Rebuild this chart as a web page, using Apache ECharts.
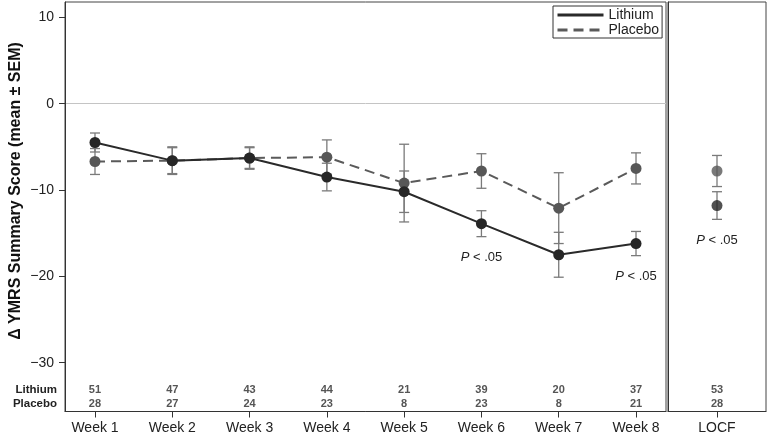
<!DOCTYPE html>
<html>
<head>
<meta charset="utf-8">
<script src="https://cdn.jsdelivr.net/npm/echarts@6/dist/echarts.min.js"></script>
<style>
html, body { margin: 0; padding: 0; background: #fff; }
#chart { width: 768px; height: 437px; }
</style>
</head>
<body>
<div id="chart"></div>
<script>
// weekly values
const weeks = ['Week 1', 'Week 2', 'Week 3', 'Week 4', 'Week 5', 'Week 6', 'Week 7', 'Week 8']
const weekPos = [1, 2, 3, 4, 5, 6, 7, 8]
const lithiumMean = [-4.5, -6.6, -6.3, -8.5, -10.2, -13.9, -17.5, -16.2]
const lithiumSem = [1.1, 1.5, 1.3, 1.6, 2.4, 1.5, 2.6, 1.4]
const placeboMean = [-6.7, -6.6, -6.3, -6.2, -9.2, -7.8, -12.1, -7.5]
const placeboSem = [1.5, 1.6, 1.2, 2.0, 4.5, 2.0, 4.1, 1.8]
const nLithium = [51, 47, 43, 44, 21, 39, 20, 37]
const nPlacebo = [28, 27, 24, 23, 8, 23, 8, 21]
const sigWeeks = [6, 8] // P < .05

// LOCF panel
const locfCats = ['LOCF']
const locfLithiumMean = [-11.8]
const locfLithiumSem = [1.6]
const locfPlaceboMean = [-7.8]
const locfPlaceboSem = [1.8]
const locfNLithium = [53]
const locfNPlacebo = [28]

const yTicks = [10, 0, -10, -20, -30]

const FONT = 'Liberation Sans, Arial, sans-serif'
const Y_MIN = -35.65
const Y_MAX = 11.77

const chart = echarts.init(document.getElementById('chart'))

// error bars as custom series
function errorBars (xAxisIndex, xs, means, sems) {
  return {
    type: 'custom',
    xAxisIndex: xAxisIndex,
    yAxisIndex: xAxisIndex,
    silent: true,
    z: 1,
    data: means.map((m, i) => [xs[i], m - sems[i], m + sems[i]]),
    renderItem: (params, api) => {
      const x = api.value(0)
      const lo = api.coord([x, api.value(1)])
      const hi = api.coord([x, api.value(2)])
      const w = 5
      const st = { stroke: '#7a7a7a', lineWidth: 1.3 }
      return {
        type: 'group',
        children: [
          { type: 'line', shape: { x1: lo[0], y1: lo[1], x2: hi[0], y2: hi[1] }, style: st },
          { type: 'line', shape: { x1: lo[0] - w, y1: lo[1], x2: lo[0] + w, y2: lo[1] }, style: st },
          { type: 'line', shape: { x1: hi[0] - w, y1: hi[1], x2: hi[0] + w, y2: hi[1] }, style: st }
        ]
      }
    }
  }
}

const lithiumStyle = { color: '#2a2a2a', lineWidth: 2.8, type: 'solid' }
const placeboStyle = { color: '#5a5a5a', lineWidth: 2.8, type: [10, 6] }

const yAxisBase = {
  type: 'value',
  min: Y_MIN,
  max: Y_MAX,
  splitLine: { show: false },
  axisLine: { show: true, lineStyle: { color: '#333', width: 1 } }
}

chart.setOption({
  animation: false,
  textStyle: { fontFamily: FONT },
  grid: [
    { left: 65, top: 2, width: 601, height: 409.5, show: true, borderColor: '#444', borderWidth: 1 },
    { left: 668, top: 2, width: 98, height: 409.5, show: true, borderColor: '#444', borderWidth: 1 }
  ],
  legend: {
    left: 553,
    top: 6,
    orient: 'vertical',
    itemWidth: 46,
    itemHeight: 16,
    itemGap: 1,
    padding: [2, 3, 1, 3],
    borderColor: '#333',
    borderWidth: 1,
    borderRadius: 0,
    backgroundColor: '#fff',
    itemStyle: { opacity: 0 },
    lineStyle: { width: 3 },
    textStyle: { fontSize: 14, color: '#222', fontFamily: FONT },
    data: ['Lithium', 'Placebo']
  },
  xAxis: [
    {
      type: 'value',
      gridIndex: 0,
      min: 0.612,
      max: 8.388,
      splitLine: { show: false },
      axisLine: { show: true, onZero: false, lineStyle: { color: '#333' } },
      axisTick: { show: true, customValues: weekPos, length: 6, lineStyle: { color: '#333' } },
      axisLabel: {
        customValues: weekPos,
        formatter: v => weeks[Math.round(v) - 1],
        fontSize: 14,
        color: '#222',
        margin: 10
      }
    },
    {
      type: 'category',
      gridIndex: 1,
      data: locfCats,
      axisLine: { show: true, onZero: false, lineStyle: { color: '#333' } },
      axisTick: { show: true, alignWithLabel: true, length: 6, lineStyle: { color: '#333' } },
      axisLabel: { fontSize: 14, color: '#222', margin: 10 }
    }
  ],
  yAxis: [
    Object.assign({}, yAxisBase, {
      gridIndex: 0,
      axisTick: { show: true, customValues: yTicks, length: 6, lineStyle: { color: '#333' } },
      axisLabel: {
        customValues: yTicks,
        formatter: v => (v < 0 ? '\u2212' + Math.abs(v) : String(v)),
        fontSize: 14,
        color: '#222',
        margin: 11
      }
    }),
    Object.assign({}, yAxisBase, {
      gridIndex: 1,
      axisTick: { show: false },
      axisLabel: { show: false }
    })
  ],
  series: [
    errorBars(0, weekPos, placeboMean, placeboSem),
    errorBars(0, weekPos, lithiumMean, lithiumSem),
    errorBars(1, [0], locfPlaceboMean, locfPlaceboSem),
    errorBars(1, [0], locfLithiumMean, locfLithiumSem),
    {
      name: 'Placebo',
      type: 'line',
      xAxisIndex: 0,
      yAxisIndex: 0,
      z: 3,
      symbol: 'circle',
      symbolSize: 11,
      itemStyle: { color: '#575757' },
      lineStyle: placeboStyle,
      data: placeboMean.map((m, i) => [weekPos[i], m])
    },
    {
      name: 'Lithium',
      type: 'line',
      xAxisIndex: 0,
      yAxisIndex: 0,
      z: 4,
      symbol: 'circle',
      symbolSize: 11,
      itemStyle: { color: '#262626' },
      lineStyle: lithiumStyle,
      data: lithiumMean.map((m, i) => [weekPos[i], m]),
      markLine: {
        silent: true,
        symbol: 'none',
        label: { show: false },
        lineStyle: { color: '#c4c4c4', type: 'solid', width: 1 },
        data: [{ yAxis: 0 }],
        z: 0
      }
    },
    {
      name: 'Placebo',
      type: 'scatter',
      xAxisIndex: 1,
      yAxisIndex: 1,
      z: 3,
      symbol: 'circle',
      symbolSize: 11,
      itemStyle: { color: '#575757' },
      data: locfPlaceboMean.map((m, i) => [i, m])
    },
    {
      name: 'Lithium',
      type: 'scatter',
      xAxisIndex: 1,
      yAxisIndex: 1,
      z: 4,
      symbol: 'circle',
      symbolSize: 11,
      itemStyle: { color: '#262626' },
      data: locfLithiumMean.map((m, i) => [i, m])
    }
  ]
})

// text overlays positioned through the axes
const graphics = []
graphics.push({
  type: 'text',
  x: 16,
  y: 191,
  rotation: Math.PI / 2,
  style: {
    text: 'Δ YMRS Summary Score (mean ± SEM)',
    font: 'bold 16px ' + FONT,
    fill: '#111',
    align: 'center',
    verticalAlign: 'middle'
  }
})

const rowY = [390, 404]
;['Lithium', 'Placebo'].forEach((t, r) => {
  graphics.push({
    type: 'text',
    x: 57,
    y: rowY[r],
    style: { text: t, font: 'bold 11.5px ' + FONT, fill: '#222', align: 'right', verticalAlign: 'middle' }
  })
})

function countText (x, n, r) {
  graphics.push({
    type: 'text',
    x: x,
    y: rowY[r],
    style: { text: String(n), font: 'bold 11px ' + FONT, fill: '#555', align: 'center', verticalAlign: 'middle' }
  })
}

function pText (x, y) {
  graphics.push({
    type: 'text',
    x: x,
    y: y,
    style: {
      text: '{i|P} < .05',
      rich: { i: { fontStyle: 'italic', fontSize: 13, fontFamily: FONT, fill: '#222' } },
      font: '13px ' + FONT,
      fill: '#222',
      align: 'center',
      verticalAlign: 'middle'
    }
  })
}

weekPos.forEach((w, i) => {
  const x = chart.convertToPixel({ xAxisIndex: 0 }, w)
  countText(x, nLithium[i], 0)
  countText(x, nPlacebo[i], 1)
  if (sigWeeks.indexOf(w) >= 0) {
    const y = chart.convertToPixel({ yAxisIndex: 0 }, lithiumMean[i] - lithiumSem[i])
    pText(x, y + 21)
  }
})

const lx = chart.convertToPixel({ xAxisIndex: 1 }, 0)
countText(lx, locfNLithium[0], 0)
countText(lx, locfNPlacebo[0], 1)
pText(lx, chart.convertToPixel({ yAxisIndex: 1 }, locfLithiumMean[0] - locfLithiumSem[0]) + 21)

chart.setOption({ graphic: graphics })
</script>
</body>
</html>
